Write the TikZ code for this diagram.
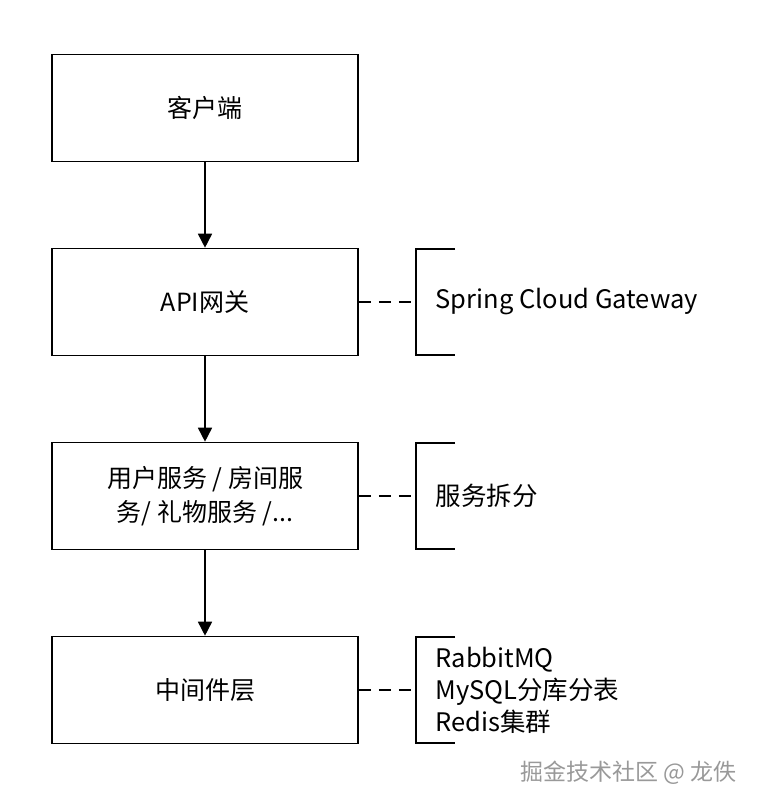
\documentclass[tikz,border=0pt]{standalone}
\usepackage{fontspec}
\setmainfont{Noto Sans CJK SC}
\usetikzlibrary{positioning,arrows.meta}
\tikzset{
  box/.style={draw,line width=1.6pt,minimum width=306pt,minimum height=107pt,
    align=center,font=\fontsize{25}{34}\selectfont},
  note/.style={anchor=west,align=left,font=\fontsize{25.5}{32}\selectfont},
  flow/.style={-{Triangle[length=14pt,width=14pt]},line width=1.6pt},
  link/.style={dashed,dash pattern=on 12pt off 8pt,line width=1.6pt}
}
\begin{document}
\begin{tikzpicture}[x=1pt,y=-1pt]
  \useasboundingbox (0,0) rectangle (758,810);
  \node[box] (client) at (205,108) {客户端};
  \node[box] (gw) at (205,302) {API网关};
  \node[box] (svc) at (205,496) {用户服务 / 房间服\\务/ 礼物服务 /...};
  \node[box] (mid) at (205,690) {中间件层};
  \draw[flow] (client) -- (gw);
  \draw[flow] (gw) -- (svc);
  \draw[flow] (svc) -- (mid);
  % brackets
  \foreach \n/\y in {gw/302,svc/496,mid/690} {
    \coordinate (b\n) at (416,\y);
    \draw[line width=1.6pt] (455,\y-53) -- (416,\y-53) -- (416,\y+53) -- (455,\y+53);
    \draw[link] (\n.east) -- (b\n);
  }
  \node[note] (ngw) at (432,302) {Spring Cloud Gateway};
  \node[note] (nsvc) at (432,496) {服务拆分};
  \node[note] (nmid) at (432,690) {RabbitMQ\\MySQL分库分表\\Redis集群};
  \node[anchor=east,text=gray!80,font=\fontsize{23}{26}\selectfont] (wm) at (740,773) {掘金技术社区 @ 龙佚};
\end{tikzpicture}
\end{document}
